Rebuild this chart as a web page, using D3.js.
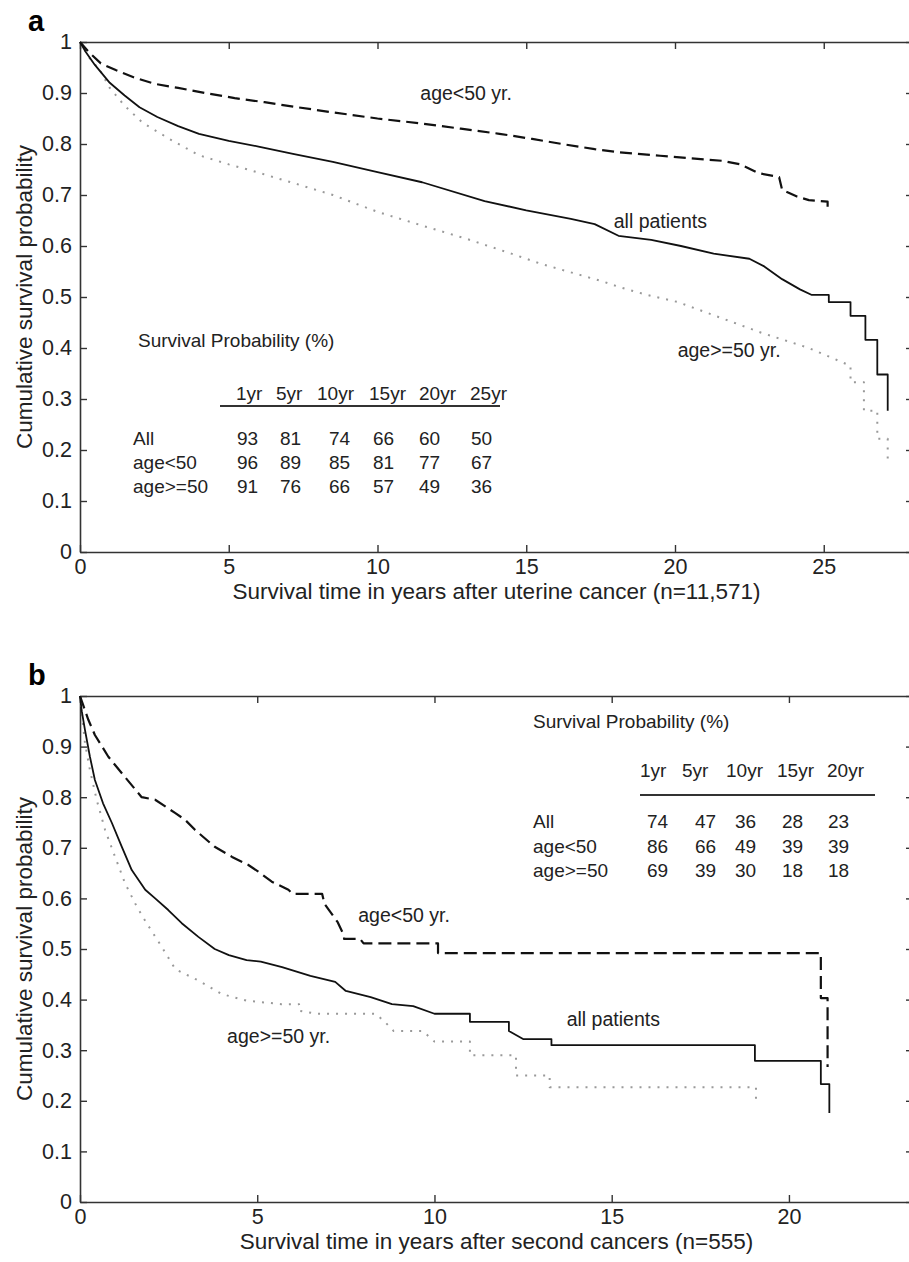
<!DOCTYPE html>
<html>
<head>
<meta charset="utf-8">
<script src="https://cdn.jsdelivr.net/npm/d3@7"></script>
<style>
  body { margin: 0; background: #fff; }
  svg { display: block; font-family: "Liberation Sans", Arial, sans-serif; }
</style>
</head>
<body>
<div id="chart"></div>
<script>
// ---- data: [years, cumulative survival] ----
const aAll = [[0,1],[0.2,0.98],[0.5,0.955],[1,0.92],[1.5,0.895],[2,0.872],[2.6,0.853],[3.3,0.835],[4,0.82],[5,0.806],[6,0.795],[7.2,0.78],[8.5,0.765],[10,0.745],[11.5,0.725],[13.6,0.688],[15,0.67],[16.5,0.653],[17.3,0.643],[18.1,0.62],[19.2,0.612],[20.2,0.6],[21.3,0.585],[22.5,0.575],[23,0.56],[23.6,0.535],[24.2,0.515],[24.6,0.504],[25.17,0.504],[25.17,0.49],[25.9,0.49],[25.9,0.463],[26.4,0.463],[26.4,0.416],[26.8,0.416],[26.8,0.348],[27.15,0.348],[27.15,0.277]];
const aYoung = [[0,1],[0.3,0.98],[0.7,0.958],[1.2,0.945],[1.8,0.931],[2.5,0.918],[3.3,0.91],[4.2,0.9],[5.2,0.89],[6.2,0.882],[7.2,0.873],[8.5,0.862],[10,0.85],[11.5,0.84],[12.8,0.83],[14.1,0.82],[15.2,0.81],[16.2,0.8],[17.3,0.79],[18.1,0.784],[19.5,0.777],[20.5,0.772],[21.6,0.767],[22.2,0.76],[22.8,0.743],[23.5,0.735],[23.6,0.71],[24.1,0.697],[24.5,0.69],[25.13,0.687],[25.13,0.667]];
const aOld = [[0,1],[0.3,0.97],[0.67,0.945],[1,0.91],[1.5,0.875],[2.1,0.842],[3,0.81],[4,0.778],[5,0.76],[5.7,0.749],[7.2,0.723],[8.5,0.7],[10,0.667],[11.5,0.64],[13,0.614],[14.5,0.585],[15.5,0.565],[17.6,0.53],[18.1,0.52],[19,0.505],[20.1,0.49],[21.5,0.46],[22.9,0.43],[24.5,0.4],[25.3,0.38],[25.9,0.365],[25.9,0.333],[26.35,0.333],[26.35,0.277],[26.8,0.277],[26.8,0.222],[27.15,0.222],[27.15,0.173]];

const bAll = [[0,1],[0.05,0.97],[0.14,0.933],[0.28,0.88],[0.42,0.834],[0.65,0.788],[0.9,0.749],[1.18,0.702],[1.46,0.656],[1.84,0.617],[2.12,0.6],[2.49,0.577],[2.87,0.551],[3.34,0.524],[3.8,0.5],[4.2,0.488],[4.7,0.478],[5.1,0.475],[5.7,0.464],[6.5,0.447],[7.2,0.435],[7.5,0.417],[8.2,0.405],[8.8,0.391],[9.4,0.387],[10,0.372],[11,0.372],[11,0.356],[12.1,0.356],[12.1,0.338],[12.5,0.322],[13.3,0.322],[13.3,0.31],[19.04,0.31],[19.04,0.279],[20.9,0.279],[20.9,0.233],[21.14,0.233],[21.14,0.176]];
const bYoung = [[0,1],[0.1,0.98],[0.235,0.953],[0.42,0.923],[0.8,0.88],[1.22,0.844],[1.74,0.8],[2.12,0.795],[2.68,0.769],[2.97,0.755],[3.25,0.735],[3.8,0.702],[4.29,0.682],[4.75,0.666],[5.03,0.653],[5.41,0.633],[5.88,0.617],[6,0.609],[6.83,0.609],[6.9,0.589],[7.27,0.553],[7.45,0.526],[7.45,0.52],[7.9,0.52],[8,0.511],[10.1,0.511],[10.1,0.492],[20.9,0.492],[20.9,0.403],[21.09,0.403],[21.09,0.267]];
const bOld = [[0,1],[0.14,0.907],[0.28,0.854],[0.47,0.795],[0.71,0.735],[0.99,0.682],[1.27,0.63],[1.6,0.584],[1.88,0.551],[2.3,0.505],[2.69,0.46],[3.36,0.437],[4,0.411],[4.69,0.398],[5.68,0.391],[6.18,0.391],[6.18,0.378],[6.67,0.372],[8.34,0.372],[8.6,0.356],[8.85,0.338],[9.67,0.338],[10,0.317],[11,0.317],[11,0.29],[12.3,0.29],[12.3,0.25],[13.25,0.25],[13.25,0.227],[19.07,0.227],[19.07,0.196]];

// tick values
const yTicks = [0,0.1,0.2,0.3,0.4,0.5,0.6,0.7,0.8,0.9,1];
const aXTicks = [0,5,10,15,20,25];
const bXTicks = [0,5,10,15,20];

// survival tables (%)
const rowNames = ["All","age<50","age>=50"];
const aYears = ["1yr","5yr","10yr","15yr","20yr","25yr"];
const aTable = [[93,81,74,66,60,50],[96,89,85,81,77,67],[91,76,66,57,49,36]];
const bYears = ["1yr","5yr","10yr","15yr","20yr"];
const bTable = [[74,47,36,28,23],[86,66,49,39,39],[69,39,30,18,18]];

const svg = d3.select("#chart").append("svg").attr("width", 909).attr("height", 1262);

function makePanel(cfg) {
  const { top, bottom, left, right, xMax, xTicks, series, letter, xLabel, notes, table } = cfg;
  const g = svg.append("g");
  const x = d3.scaleLinear().domain([0, xMax]).range([left, right]);
  const y = d3.scaleLinear().domain([0, 1]).range([bottom, top]);

  //#region axes (MATLAB style box with inward ticks)
  const styleAxis = sel => {
    sel.selectAll("path.domain").attr("stroke", "#333").attr("stroke-width", 1.6);
    sel.selectAll(".tick line").attr("stroke", "#333").attr("stroke-width", 1.4);
    sel.selectAll(".tick text").attr("fill", "#222").style("font-size", "21.5px")
      .style("font-family", "Liberation Sans, Arial, sans-serif");
  };
  g.append("g").attr("transform", `translate(0,${bottom})`)
    .call(d3.axisBottom(x).tickValues(xTicks).tickSizeInner(-7).tickSizeOuter(0).tickPadding(7).tickFormat(d3.format("d")))
    .call(styleAxis);
  g.append("g").attr("transform", `translate(0,${top})`)
    .call(d3.axisTop(x).tickValues(xTicks).tickSizeInner(-7).tickSizeOuter(0).tickFormat(""))
    .call(styleAxis);
  g.append("g").attr("transform", `translate(${left},0)`)
    .call(d3.axisLeft(y).tickValues(yTicks).tickSizeInner(-7).tickSizeOuter(0).tickPadding(8).tickFormat(d => d === 0 || d === 1 ? d3.format("d")(d) : d3.format(".1f")(d)))
    .call(styleAxis);
  g.append("g").attr("transform", `translate(${right},0)`)
    .call(d3.axisRight(y).tickValues(yTicks).tickSizeInner(-7).tickSizeOuter(0).tickFormat(""))
    .call(styleAxis);
  //#endregion

  //#region curves
  const line = d3.line().x(d => x(d[0])).y(d => y(d[1]));
  series.forEach(s => {
    g.append("path")
      .datum(s.data)
      .attr("d", line)
      .attr("fill", "none")
      .attr("stroke", s.color)
      .attr("stroke-width", s.width)
      .attr("stroke-dasharray", s.dash)
      .attr("stroke-linejoin", "round");
  });
  //#endregion

  //#region labels
  g.append("text").text(letter)
    .attr("x", 28).attr("y", top - 11)
    .style("font-size", "29px").style("font-weight", "bold");

  g.append("text").text(xLabel)
    .attr("x", (left + right) / 2).attr("y", bottom + 47)
    .attr("text-anchor", "middle").attr("fill", "#222")
    .style("font-size", "22.5px");

  g.append("text").text("Cumulative survival probability")
    .attr("transform", `translate(32,${(top + bottom) / 2}) rotate(-90)`)
    .attr("text-anchor", "middle").attr("fill", "#222")
    .style("font-size", "22.5px");

  notes.forEach(n => {
    g.append("text").text(n.text)
      .attr("x", x(n.t)).attr("y", y(n.s))
      .attr("fill", "#222").style("font-size", "19.5px");
  });
  //#endregion

  //#region survival table
  const tb = g.append("g").attr("fill", "#222").style("font-size", "19px");
  tb.append("text").text("Survival Probability (%)")
    .attr("x", table.titleX).attr("y", table.titleY);
  tb.selectAll(".hdr").data(table.years).enter().append("text")
    .text(d => d)
    .attr("x", (d, i) => table.colX[i])
    .attr("y", table.headY);
  tb.append("line")
    .attr("x1", table.lineX[0]).attr("x2", table.lineX[1])
    .attr("y1", table.lineY).attr("y2", table.lineY)
    .attr("stroke", "#333").attr("stroke-width", 2);
  rowNames.forEach((name, r) => {
    tb.append("text").text(name)
      .attr("x", table.rowX).attr("y", table.rowY[r]);
    tb.selectAll(`.v${r}`).data(table.values[r]).enter().append("text")
      .text(d => d)
      .attr("x", (d, i) => table.valX[i])
      .attr("y", table.rowY[r]);
  });
  //#endregion
}

makePanel({
  top: 42, bottom: 552, left: 80, right: 913, xMax: 28, xTicks: aXTicks,
  letter: "a",
  xLabel: "Survival time in years after uterine cancer (n=11,571)",
  series: [
    { data: aOld, color: "#999", width: 2, dash: "2,7" },
    { data: aAll, color: "#111", width: 1.8, dash: null },
    { data: aYoung, color: "#111", width: 2.2, dash: "12,6" }
  ],
  notes: [
    { text: "age<50 yr.", t: 11.44, s: 0.886 },
    { text: "all patients", t: 17.94, s: 0.635 },
    { text: "age>=50 yr.", t: 20.09, s: 0.382 }
  ],
  table: {
    years: aYears, values: aTable,
    titleX: 138, titleY: 347,
    colX: [236, 276, 317, 369, 419, 470], headY: 400,
    lineX: [220, 500], lineY: 406,
    rowX: 133, rowY: [445, 469, 493],
    valX: [237, 280, 329, 373, 419, 471]
  }
});

makePanel({
  top: 696, bottom: 1202, left: 80, right: 913, xMax: 23.5, xTicks: bXTicks,
  letter: "b",
  xLabel: "Survival time in years after second cancers (n=555)",
  series: [
    { data: bOld, color: "#999", width: 2, dash: "2,7" },
    { data: bAll, color: "#111", width: 1.8, dash: null },
    { data: bYoung, color: "#111", width: 2.2, dash: "13,6" }
  ],
  notes: [
    { text: "age<50 yr.", t: 7.85, s: 0.553 },
    { text: "all patients", t: 13.73, s: 0.348 },
    { text: "age>=50 yr.", t: 4.15, s: 0.314 }
  ],
  table: {
    years: bYears, values: bTable,
    titleX: 533, titleY: 728,
    colX: [640, 682, 726, 777, 827], headY: 777,
    lineX: [640, 875], lineY: 795,
    rowX: 533, rowY: [828, 853, 877],
    valX: [647, 695, 735, 782, 828]
  }
});
</script>
</body>
</html>
